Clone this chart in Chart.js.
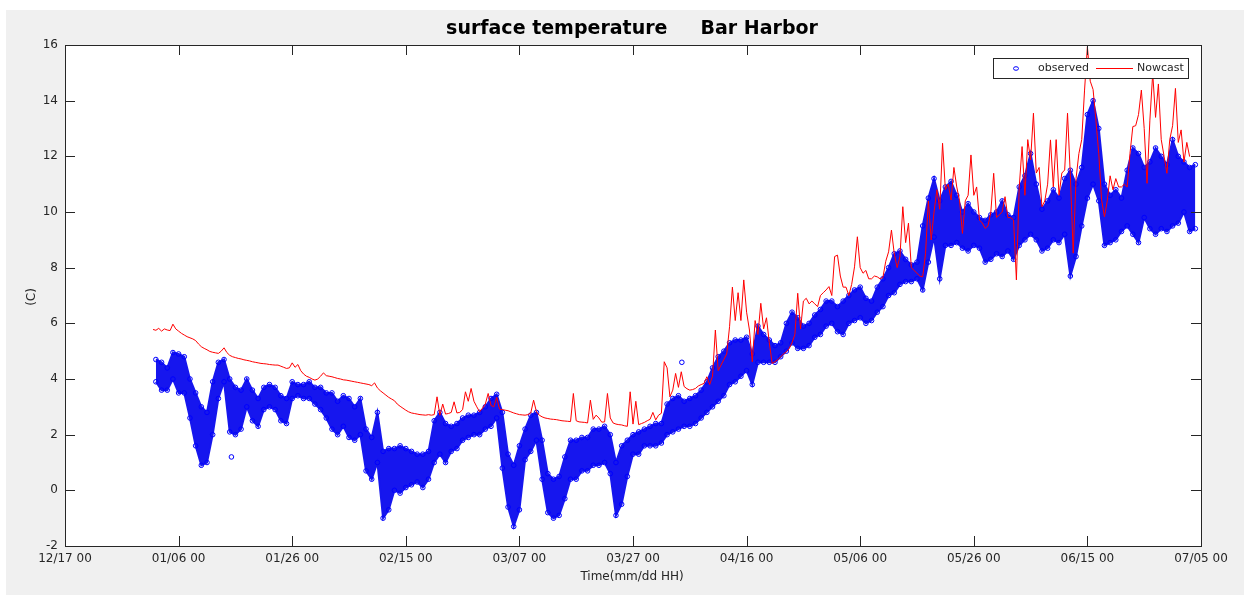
<!DOCTYPE html>
<html>
<head>
<meta charset="utf-8">
<script src="https://cdn.jsdelivr.net/npm/chart.js@4.4.0/dist/chart.umd.min.js"></script>
<style>
  html, body { margin: 0; padding: 0; background: #ffffff; overflow: hidden; }
  canvas { display: block; }
</style>
</head>
<body>
<canvas id="tempChart" width="1251" height="595"></canvas>
<script>
// x axis is days after 12/17 00
const tickLabels = ['12/17 00', '01/06 00', '01/26 00', '02/15 00', '03/07 00', '03/27 00',
  '04/16 00', '05/06 00', '05/26 00', '06/15 00', '07/05 00'];

// Nowcast, every 12 hours from day 15.5
const nowcastStart = 15.5;
const nowcast = [5.78,
  5.75,5.82, 5.72,5.80, 5.76,5.74, 5.97,5.80, 5.72,5.64, 5.58,5.52, 5.48,5.44, 5.38,5.26, 5.16,5.10, 5.05,4.99,
  4.96,4.94, 4.92,5.00, 5.12,4.95, 4.85,4.80, 4.77,4.74, 4.72,4.69, 4.67,4.65, 4.62,4.60, 4.58,4.56, 4.55,4.54,
  4.52,4.51, 4.50,4.50, 4.46,4.42, 4.38,4.40, 4.58,4.42, 4.52,4.30, 4.18,4.10, 4.06,4.00, 3.96,4.00, 4.10,4.22,
  4.12,4.10, 4.08,4.05, 4.02,4.00, 3.97,3.96, 3.94,3.92, 3.90,3.88, 3.86,3.84, 3.82,3.80, 3.76,3.86, 3.68,3.58,
  3.50,3.42, 3.34,3.28, 3.22,3.10, 3.02,2.95, 2.88,2.82, 2.78,2.76, 2.74,2.72, 2.71,2.70, 2.72,2.70, 2.72,3.36,
  2.70,3.10, 2.74,2.76, 2.80,3.18, 2.78,2.80, 2.90,3.54, 3.20,3.66, 3.20,3.00, 2.82,2.95, 3.10,3.48, 3.05,3.00,
  3.34,2.92, 2.90,2.88, 2.86,2.82, 2.78,2.75, 2.72,2.71, 2.70,2.72, 2.78,3.24, 2.82,2.70, 2.64,2.60, 2.58,2.56,
  2.55,2.54, 2.52,2.50, 2.49,2.48, 2.47,3.48, 2.50,2.46, 2.45,2.44, 2.42,3.24, 2.55,2.70, 2.60,2.45, 2.46,3.48,
  2.60,2.42, 2.38,2.36, 2.35,2.32, 2.30,3.54, 2.38,3.20, 2.36,2.40, 2.44,2.50, 2.55,2.80, 2.53,2.70, 2.77,4.62,
  4.40,3.36, 3.60,4.20, 3.70,4.26, 3.73,3.65, 3.60,3.62, 3.66,3.75, 3.80,3.84, 4.08,3.80, 4.10,5.76, 4.30,4.50,
  4.70,4.90, 5.88,7.30, 6.10,7.10, 6.10,7.56, 6.40,5.76, 4.62,6.10, 5.60,6.72, 5.80,6.20, 5.30,4.56, 4.62,4.70,
  4.80,4.90, 4.98,5.10, 5.30,5.60, 7.08,5.80, 6.80,6.90, 6.70,6.80, 6.70,6.60, 7.00,7.10, 7.20,7.32, 7.00,8.40,
  8.45,7.70, 7.30,7.30, 7.00,7.40, 8.03,9.11, 8.00,7.80, 7.90,7.60, 7.60,7.70, 7.67,7.60, 7.65,8.23, 8.57,9.35,
  8.50,8.00, 8.40,10.19, 8.90,9.60, 8.00,7.90, 7.80,7.70, 7.67,8.50, 10.40,9.00, 10.00,10.80, 10.10,12.47, 10.80,11.00,
  10.43,11.60, 10.90,10.40, 9.23,10.40, 10.60,12.05, 10.60,10.90, 9.71,9.60, 9.41,9.50, 10.00,11.39, 9.80,9.90, 10.00,10.55,
  9.80,9.80, 9.71,7.56, 10.90,12.35, 10.60,12.60, 11.87,13.55, 11.40,11.60, 10.19,10.40, 11.00,12.59, 10.90,12.60, 10.60,11.40,
  11.51,13.55, 11.30,8.52, 11.20,12.10, 12.60,14.38, 15.94,14.70, 14.40,13.30, 12.10,10.43, 9.83,10.40, 11.30,10.80, 11.20,10.90,
  10.90,11.00, 10.90,12.11, 13.07,13.10, 13.50,14.38, 13.00,11.03, 13.30,14.98, 13.40,14.60, 12.60,12.00, 11.39,12.60, 13.10,14.44,
  12.50,12.95, 11.80,12.50, 11.99];

// observed, daily low / high from day 16
const obsStart = 16;
const obsLow = [
  3.9,3.6,3.6,4.0,3.5,3.5,2.6,1.6,0.9,1.0,
  2.0,3.3,3.9,2.1,2.0,2.2,3.0,2.5,2.3,2.9,
  3.0,2.9,2.5,2.4,3.3,3.4,3.3,3.3,3.1,2.9,
  2.6,2.2,2.0,2.3,1.9,1.8,2.0,0.7,0.4,1.0,
  -1.0,-0.7,0.0,-0.1,0.1,0.2,0.3,0.1,0.4,1.0,
  1.3,1.0,1.4,1.5,1.8,1.9,2.0,2.0,2.2,2.3,
  2.6,0.8,-0.6,-1.3,-0.7,1.1,1.4,1.8,0.4,-0.8,
  -1.0,-0.9,-0.3,0.4,0.4,0.7,0.7,0.9,0.9,1.0,
  0.6,-0.9,-0.5,0.5,1.3,1.3,1.6,1.6,1.6,1.7,
  2.0,2.1,2.2,2.3,2.3,2.4,2.6,2.8,3.0,3.2,
  3.4,3.8,3.9,4.1,4.3,3.8,4.6,4.6,4.6,4.6,
  4.8,5.0,5.3,5.1,5.1,5.2,5.5,5.6,5.9,6.0,
  5.7,5.6,6.0,6.1,6.2,6.0,6.1,6.4,6.6,7.0,
  7.1,7.4,7.5,7.5,7.6,7.2,8.2,9.1,7.6,8.8,
  8.8,8.9,8.7,8.6,8.8,8.7,8.2,8.3,8.5,8.4,
  8.6,8.3,8.8,9.0,9.2,9.0,8.6,8.7,9.0,8.9,
  9.2,7.7,8.4,9.5,10.5,11.0,10.4,8.8,8.9,9.0,
  9.3,9.5,9.2,8.9,9.8,9.4,9.2,9.4,9.3,9.5,
  9.6,10.0,9.3,9.4];
const obsHigh = [
  4.7,4.6,4.4,4.95,4.9,4.8,4.0,3.5,3.0,2.8,
  3.9,4.6,4.7,4.0,3.7,3.6,4.0,3.6,3.3,3.7,
  3.8,3.7,3.4,3.3,3.9,3.8,3.8,3.9,3.7,3.7,
  3.5,3.5,3.2,3.4,3.3,3.0,3.3,2.2,1.9,2.8,
  1.4,1.5,1.5,1.6,1.5,1.4,1.3,1.3,1.4,2.5,
  2.8,2.4,2.3,2.4,2.6,2.7,2.7,2.8,3.0,3.3,
  3.45,2.8,1.3,0.9,1.6,2.2,2.7,2.8,1.8,0.6,
  0.4,0.5,1.2,1.8,1.8,1.9,1.9,2.2,2.2,2.3,
  2.0,1.0,1.6,1.8,2.0,2.1,2.2,2.3,2.4,2.4,
  3.1,3.3,3.4,3.2,3.3,3.4,3.6,3.9,4.4,4.8,
  5.0,5.3,5.4,5.4,5.5,4.9,5.9,5.6,5.4,5.2,
  5.3,6.0,6.4,6.2,5.9,6.0,6.3,6.5,6.8,6.8,
  6.6,6.8,7.0,7.2,7.3,6.9,6.8,7.3,7.6,8.0,
  8.5,8.6,8.3,8.1,8.2,9.5,10.5,11.2,10.4,10.9,
  11.1,10.6,10.0,10.3,10.0,9.8,9.7,9.9,10.0,10.4,
  9.9,9.8,10.9,11.3,12.1,11.0,10.1,10.4,10.8,10.5,
  11.2,11.5,11.0,11.6,13.5,14.0,13.0,11.0,10.6,10.8,
  10.5,11.5,12.3,12.1,11.6,11.8,12.3,12.0,11.7,12.6,
  12.0,11.8,11.6,11.7];
// single stray readings
const obsStrayDays = [29.3, 108.6];
const obsStrayValues = [1.2, 4.6];

const axisColor = '#262626';
const bandColor = 'rgb(22, 22, 238)';
const font = '"DejaVu Sans", sans-serif';

const nowcastPoints = nowcast.map((v, i) => ({ x: nowcastStart + i * 0.5, y: v }));
const lowPoints = obsLow.map((v, i) => ({ x: obsStart + i, y: v }));
const highPoints = obsHigh.map((v, i) => ({ x: obsStart + i, y: v }));
const obsPoints = [];
obsLow.forEach((lo, i) => {
  obsPoints.push({ x: obsStart + i, y: lo }, { x: obsStart + i, y: obsHigh[i] });
});
obsStrayDays.forEach((d, i) => obsPoints.push({ x: d, y: obsStrayValues[i] }));

// MATLAB-ish frame: grey figure, boxed axes, inward ticks, legend box
const framePlugin = {
  id: 'frame',
  beforeDraw(chart) {
    const c = chart.ctx, a = chart.chartArea;
    c.save();
    c.fillStyle = '#ffffff';
    c.fillRect(0, 0, chart.width, chart.height);
    c.fillStyle = '#f0f0f0';
    c.fillRect(6, 10, 1238, 585);
    c.fillStyle = '#ffffff';
    c.fillRect(a.left, a.top, a.right - a.left, a.bottom - a.top);
    c.restore();
  },
  afterDraw(chart) {
    const c = chart.ctx, a = chart.chartArea;
    const xs = chart.scales.x, ys = chart.scales.y;
    c.save();
    c.strokeStyle = axisColor;
    c.lineWidth = 1;
    c.strokeRect(a.left + 0.5, a.top + 0.5, a.right - a.left, a.bottom - a.top);
    c.beginPath();
    for (let v = 0; v <= 200; v += 20) {
      const px = Math.round(xs.getPixelForValue(v)) + 0.5;
      c.moveTo(px, a.bottom); c.lineTo(px, a.bottom - 10);
      c.moveTo(px, a.top); c.lineTo(px, a.top + 10);
    }
    for (let v = -2; v <= 16; v += 2) {
      const py = Math.round(ys.getPixelForValue(v)) + 0.5;
      c.moveTo(a.left, py); c.lineTo(a.left + 10, py);
      c.moveTo(a.right, py); c.lineTo(a.right - 10, py);
    }
    c.stroke();

    // titles
    c.fillStyle = '#000000';
    c.textAlign = 'center';
    c.textBaseline = 'middle';
    c.font = 'bold 19px ' + font;
    c.fillText('surface temperature     Bar Harbor', 632, 29);
    c.fillStyle = axisColor;
    c.font = '12px ' + font;
    c.fillText('Time(mm/dd HH)', 632, 577);
    c.save();
    c.translate(32, 297);
    c.rotate(-Math.PI / 2);
    c.fillText('(C)', 0, 0);
    c.restore();

    // legend
    c.fillStyle = '#ffffff';
    c.fillRect(993, 58, 195, 20);
    c.strokeStyle = axisColor;
    c.strokeRect(993.5, 58.5, 195, 20);
    c.strokeStyle = '#0000ff';
    c.beginPath();
    c.ellipse(1016, 68.5, 2.5, 1.8, 0, 0, Math.PI * 2);
    c.stroke();
    c.strokeStyle = '#ff0000';
    c.beginPath();
    c.moveTo(1096, 68.5); c.lineTo(1133, 68.5);
    c.stroke();
    c.fillStyle = axisColor;
    c.textAlign = 'left';
    c.font = '11px ' + font;
    c.fillText('observed', 1038, 68.5);
    c.fillText('Nowcast', 1137, 68.5);
    c.restore();
  }
};

const ctx = document.getElementById('tempChart').getContext('2d');
const tempChart = new Chart(ctx, {
  type: 'line',
  data: {
    datasets: [{
      label: 'observed high',
      data: highPoints,
      borderColor: bandColor,
      borderWidth: 2,
      backgroundColor: bandColor,
      pointRadius: 0,
      fill: 1,
      order: 3
    },
    {
      label: 'observed low',
      data: lowPoints,
      borderColor: bandColor,
      borderWidth: 2,
      pointRadius: 0,
      fill: false,
      order: 2
    },
    {
      label: 'observed',
      data: obsPoints,
      showLine: false,
      pointRadius: 2.3,
      pointBorderWidth: 1,
      pointBorderColor: '#0000ff',
      pointBackgroundColor: 'rgba(255, 255, 255, 0)',
      order: 1
    },
    {
      label: 'Nowcast',
      data: nowcastPoints,
      borderColor: '#ff0000',
      borderWidth: 1,
      pointRadius: 0,
      tension: 0,
      fill: false,
      order: 0
    }]
  },
  options: {
    responsive: false,
    animation: false,
    devicePixelRatio: 1,
    layout: {
      padding: { left: 0, right: 50, top: 45, bottom: 0 }
    },
    scales: {
      x: {
        type: 'linear',
        min: 0,
        max: 200,
        offset: false,
        grid: { display: false, drawTicks: false },
        border: { display: false },
        ticks: {
          stepSize: 20,
          autoSkip: false,
          maxRotation: 0,
          padding: 6,
          color: axisColor,
          font: { family: font, size: 12 },
          callback: (v) => tickLabels[Math.round(v / 20)]
        },
        afterFit(scale) { scale.height = 49; }
      },
      y: {
        type: 'linear',
        min: -2,
        max: 16,
        grid: { display: false, drawTicks: false },
        border: { display: false },
        ticks: {
          stepSize: 2,
          padding: 7,
          color: axisColor,
          font: { family: font, size: 12 }
        },
        afterFit(scale) { scale.width = 65; }
      }
    },
    plugins: {
      legend: { display: false },
      title: { display: false },
      tooltip: { enabled: false },
      filler: { propagate: false }
    }
  },
  plugins: [framePlugin]
});
</script>
</body>
</html>
